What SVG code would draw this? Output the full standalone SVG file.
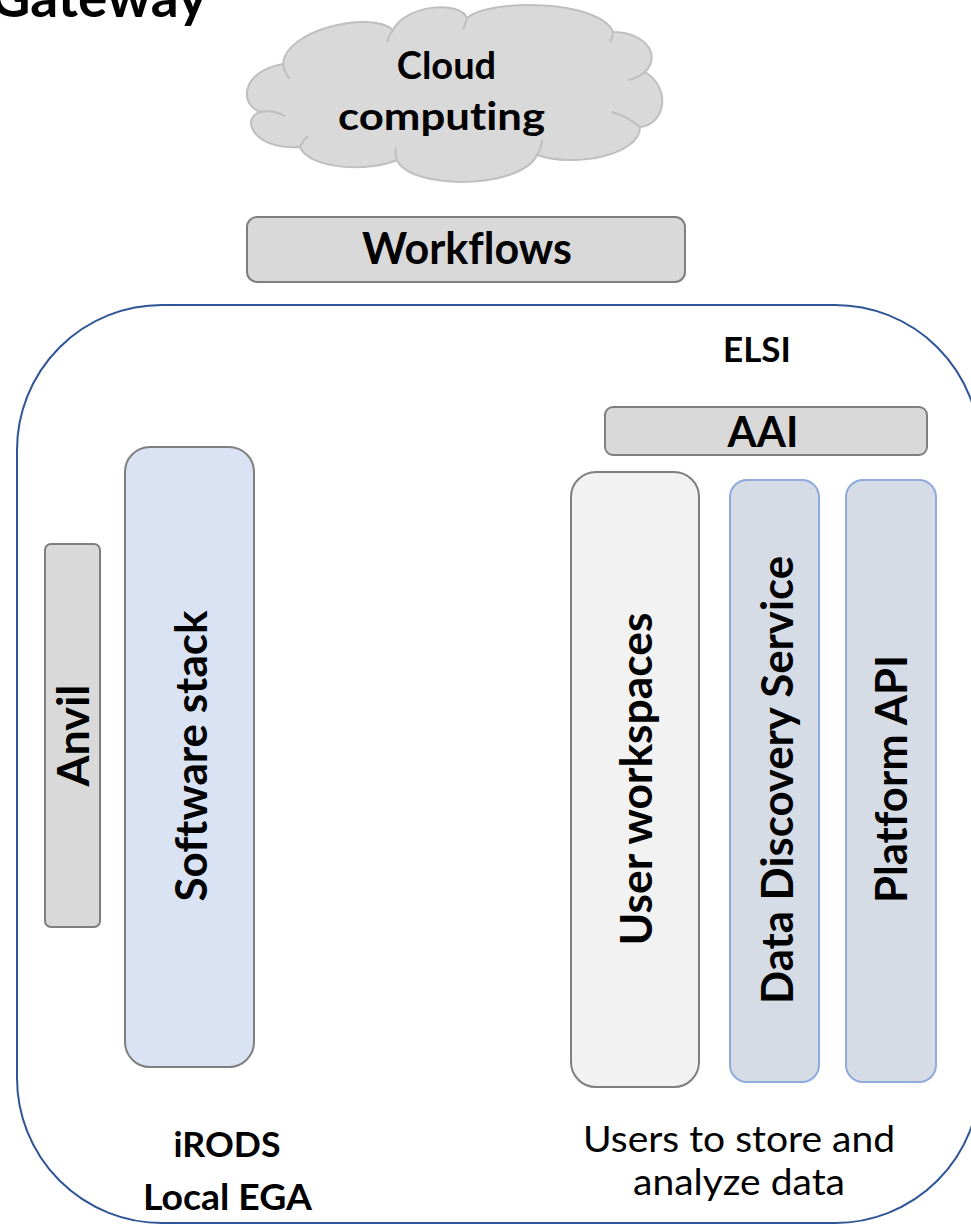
<svg xmlns="http://www.w3.org/2000/svg" width="971" height="1225" viewBox="0 0 971 1225">
  <style>
    text { font-family: Lato, "Liberation Sans", sans-serif; fill: #000; font-variant-ligatures: none; }
    .b { font-weight: bold; }
    .r { font-weight: normal; }
    .gray { fill: #D9D9D9; stroke: #7F7F7F; stroke-width: 2; }
    .soft { fill: #DAE3F3; stroke: #7F7F7F; stroke-width: 2; }
    .light { fill: #F2F2F2; stroke: #7F7F7F; stroke-width: 2; }
    .blue { fill: #D6DCE5; stroke: #8FAADC; stroke-width: 2; }
    .vt { font-size: 44px; font-weight: bold; text-anchor: middle; }
    .c { text-anchor: middle; }
  </style>
  <rect width="971" height="1225" fill="#FFFFFF"/>

  <g id="title">
    <text class="b" x="207" y="17" font-size="55" text-anchor="end">Gateway</text>
  </g>

  <g id="platform-boundary">
    <rect x="17" y="305" width="963" height="918" rx="145" ry="145" fill="none" stroke="#2F5597" stroke-width="2"/>
  </g>

  <g id="cloud-computing">
    <path d="M262,112 C240,108 238,72 283,64 C285,30 370,10 393,30 C405,5 460,0 467,18 C490,-2 600,0 613,32 C645,32 662,55 645,72 C672,88 665,125 640,127 C640,155 575,168 537,155 C520,190 410,190 397,160 C370,172 310,170 300,147 C250,150 240,115 262,112 Z" fill="#D9D9D9" stroke="#BFBFBF" stroke-width="2"/>
    <path d="M262,112 C270,110 278,112 285,116 M283,64 C284,70 286,75 290,79 M393,30 C390,34 388,38 387,42 M467,18 C466,22 465,26 463,29 M613,32 C613,36 612,39 610,42 M645,72 C640,76 634,79 628,80 M640,127 C632,120 622,115 612,112 M537,155 C540,150 542,145 542,140 M397,160 C395,156 395,152 396,148 M300,147 C302,142 305,139 308,136" fill="none" stroke="#BFBFBF" stroke-width="2"/>
    <text class="b c" x="446.5" y="79" font-size="38">Cloud</text>
    <text class="b c" x="441.5" y="130" font-size="39" textLength="207" lengthAdjust="spacingAndGlyphs">computing</text>
  </g>

  <g id="workflows">
    <rect class="gray" x="247" y="217" width="438" height="65" rx="10" ry="10"/>
    <text class="b c" x="467" y="264" font-size="43" textLength="210" lengthAdjust="spacingAndGlyphs">Workflows</text>
  </g>

  <g id="elsi">
    <text class="b c" x="757" y="362" font-size="35">ELSI</text>
  </g>

  <g id="aai">
    <rect class="gray" x="605" y="407" width="322" height="48" rx="8" ry="8"/>
    <text class="b c" x="763" y="447" font-size="42">AAI</text>
  </g>

  <g id="anvil">
    <rect class="gray" x="45" y="544" width="55" height="383" rx="6" ry="6"/>
    <text class="vt" transform="translate(89,735.5) rotate(-90)" textLength="102" lengthAdjust="spacingAndGlyphs">Anvil</text>
  </g>

  <g id="software-stack">
    <rect class="soft" x="125" y="447" width="129" height="620" rx="25" ry="25"/>
    <text class="vt" transform="translate(207,756) rotate(-90)" textLength="291" lengthAdjust="spacingAndGlyphs">Software stack</text>
  </g>

  <g id="user-workspaces">
    <rect class="light" x="571" y="472" width="128" height="615" rx="25" ry="25"/>
    <text class="vt" transform="translate(652,779) rotate(-90)" textLength="333" lengthAdjust="spacingAndGlyphs">User workspaces</text>
  </g>

  <g id="data-discovery-service">
    <rect class="blue" x="730" y="480" width="89" height="602" rx="17" ry="17"/>
    <text class="vt" transform="translate(793,780) rotate(-90)" textLength="448" lengthAdjust="spacingAndGlyphs">Data Discovery Service</text>
  </g>

  <g id="platform-api">
    <rect class="blue" x="846" y="480" width="90" height="602" rx="17" ry="17"/>
    <text class="vt" transform="translate(907,779) rotate(-90)" textLength="248" lengthAdjust="spacingAndGlyphs">Platform API</text>
  </g>

  <g id="storage-label">
    <text class="b c" x="227" y="1157" font-size="35" textLength="107" lengthAdjust="spacingAndGlyphs">iRODS</text>
    <text class="b c" x="227.5" y="1210" font-size="36" textLength="169" lengthAdjust="spacingAndGlyphs">Local EGA</text>
  </g>

  <g id="users-label">
    <text class="r c" x="739" y="1152" font-size="36" textLength="312" lengthAdjust="spacingAndGlyphs">Users to store and</text>
    <text class="r c" x="739" y="1195" font-size="36" textLength="212" lengthAdjust="spacingAndGlyphs">analyze data</text>
  </g>

  <g id="connectors"/>
</svg>
